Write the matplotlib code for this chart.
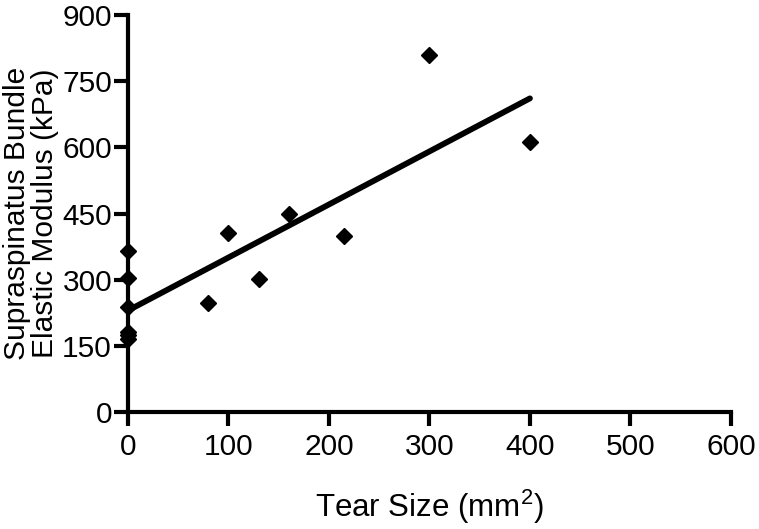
import numpy as np
import matplotlib.pyplot as plt

plt.rcParams["font.family"] = ["Liberation Sans", "DejaVu Sans"]
plt.rcParams["mathtext.fontset"] = "custom"
plt.rcParams["mathtext.rm"] = "Liberation Sans"
plt.rcParams["mathtext.default"] = "regular"

# tear size (mm^2) and supraspinatus bundle modulus (kPa)
tear_size = [0, 0, 0, 0, 0, 0, 80, 100, 130, 160, 215, 300, 400]
modulus = [365, 305, 238, 182, 175, 165, 247, 405, 302, 450, 400, 810, 613]

x_ticks = [0, 100, 200, 300, 400, 500, 600]
y_ticks = [0, 150, 300, 450, 600, 750, 900]

x = np.array(tear_size, dtype=float)
y = np.array(modulus, dtype=float)
slope, intercept = np.polyfit(x, y, 1)
xfit = np.array([x.min(), x.max()])

fig = plt.figure(figsize=(7.59, 5.29), dpi=100)
ax = fig.add_axes([0.1686, 0.221, 0.7944, 0.7506])

ax.plot(xfit, slope * xfit + intercept, color="black", linewidth=4.2,
        solid_capstyle="round", zorder=2)
ax.plot(x, y, linestyle="none", marker="D", markersize=8.5,
        color="black", clip_on=False, zorder=3)

ax.set_xlim(0, 600)
ax.set_ylim(0, 900)
ax.set_xticks(x_ticks)
ax.set_yticks(y_ticks)

for side in ["top", "right"]:
    ax.spines[side].set_visible(False)
for side in ["left", "bottom"]:
    ax.spines[side].set_linewidth(3)
ax.tick_params(axis="both", width=3, length=10, labelsize=21.5)
ax.tick_params(axis="y", pad=1.5)
ax.tick_params(axis="x", pad=5)

ax.set_xlabel("Tear Size (mm$^2$)", fontsize=22.5, labelpad=19)
ax.set_ylabel("Supraspinatus Bundle\nElastic Modulus (kPa)", fontsize=21.5,
              labelpad=2, linespacing=1.0)

plt.savefig("out.png", dpi=100)
plt.close()
